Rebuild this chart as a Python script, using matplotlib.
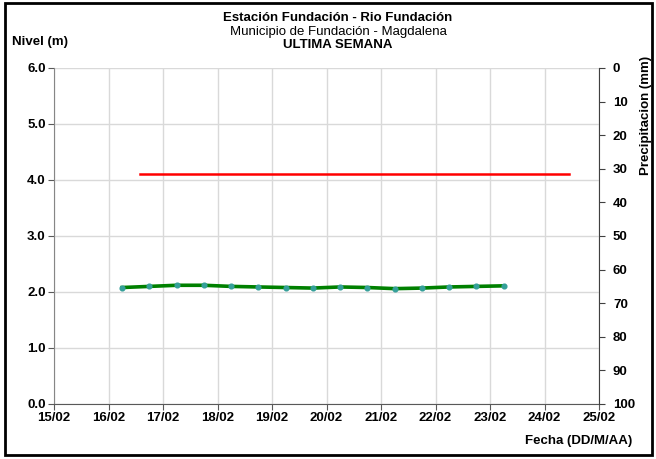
import matplotlib
matplotlib.use("Agg")
import matplotlib.pyplot as plt
from matplotlib.patches import Rectangle
import pandas as pd

plt.rcParams['font.family'] = ['Liberation Sans', 'DejaVu Sans']

level_times = ["2023-02-16 06:00", "2023-02-16 18:00", "2023-02-17 06:00", "2023-02-17 18:00",
               "2023-02-18 06:00", "2023-02-18 18:00", "2023-02-19 06:00", "2023-02-19 18:00",
               "2023-02-20 06:00", "2023-02-20 18:00", "2023-02-21 06:00", "2023-02-21 18:00",
               "2023-02-22 06:00", "2023-02-22 18:00", "2023-02-23 06:00"]
level_values = [2.08, 2.10, 2.12, 2.12, 2.10, 2.09, 2.08, 2.07, 2.09, 2.08, 2.06, 2.07, 2.09, 2.10, 2.11]

alert_times = ["2023-02-16 14:00", "2023-02-24 11:00"]
alert_values = [4.1, 4.1]

xtick_dates = ["2023-02-15", "2023-02-16", "2023-02-17", "2023-02-18", "2023-02-19", "2023-02-20",
               "2023-02-21", "2023-02-22", "2023-02-23", "2023-02-24", "2023-02-25"]
xtick_labels = ["15/02", "16/02", "17/02", "18/02", "19/02", "20/02", "21/02", "22/02", "23/02", "24/02", "25/02"]
left_ticks = [0.0, 1.0, 2.0, 3.0, 4.0, 5.0, 6.0]
right_ticks = [0, 10, 20, 30, 40, 50, 60, 70, 80, 90, 100]

fig = plt.figure(figsize=(6.56, 4.59), dpi=100)
ax = fig.add_axes([54/656, 1-404/459, (599-54)/656, (404-68)/459])

lt = pd.to_datetime(level_times)
at = pd.to_datetime(alert_times)
xt = pd.to_datetime(xtick_dates)

ax.plot(at, alert_values, color='#ff0000', lw=1.8, zorder=3)
ax.plot(lt, level_values, color='#008000', lw=2.6, marker='o', ms=3.4,
        mfc='#35a09a', mec='#35a09a', zorder=4)

ax.set_xlim(xt[0], xt[-1])
ax.set_ylim(0, 6)
ax.set_xticks(xt)
ax.set_xticklabels(xtick_labels)
ax.set_yticks(left_ticks)
ax.set_yticklabels([f"{v:.1f}" for v in left_ticks])
ax.grid(True, color='#d9d9d9', lw=1)
ax.set_axisbelow(True)
for s in ['top', 'right']:
    ax.spines[s].set_visible(False)
ax.spines['left'].set_color('#868686')
ax.spines['bottom'].set_color('#595959')
ax.tick_params(axis='both', direction='out', length=4, colors='#595959', labelcolor='black',
               labelsize=9.5, pad=2)
for lab in ax.get_xticklabels() + ax.get_yticklabels():
    lab.set_fontweight('bold')

ax2 = ax.twinx()
ax2.set_ylim(100, 0)
ax2.set_yticks(right_ticks)
ax2.set_yticklabels([str(v) for v in right_ticks])
for s in ['top', 'left', 'bottom']:
    ax2.spines[s].set_visible(False)
ax2.spines['right'].set_color('#404040')
ax2.tick_params(axis='y', direction='out', length=4, colors='#404040', labelcolor='black',
                labelsize=9.5, pad=6)
for lab in ax2.get_yticklabels():
    lab.set_fontweight('bold')

fig.text(338/656, 1-18/459, "Estación Fundación - Rio Fundación", ha='center', va='center',
         fontsize=9.5, fontweight='bold')
fig.text(338/656, 1-32/459, "Municipio de Fundación - Magdalena", ha='center', va='center',
         fontsize=9.5)
fig.text(338/656, 1-45/459, "ULTIMA SEMANA", ha='center', va='center',
         fontsize=9.5, fontweight='bold')
fig.text(12/656, 1-42/459, "Nivel (m)", ha='left', va='center', fontsize=9.5, fontweight='bold')
fig.text(646/656, 1-115/459, "Precipitacion (mm)", ha='center', va='center', rotation=90,
         fontsize=9.5, fontweight='bold')
fig.text(632/656, 1-441/459, "Fecha (DD/M/AA)", ha='right', va='center', fontsize=9.5,
         fontweight='bold')

fig.patches.append(Rectangle((5/656, 1-455/459), (652-5)/656, (455-3)/459,
                             transform=fig.transFigure, fill=False, edgecolor='black', lw=2))

fig.savefig("out.png", dpi=100)
